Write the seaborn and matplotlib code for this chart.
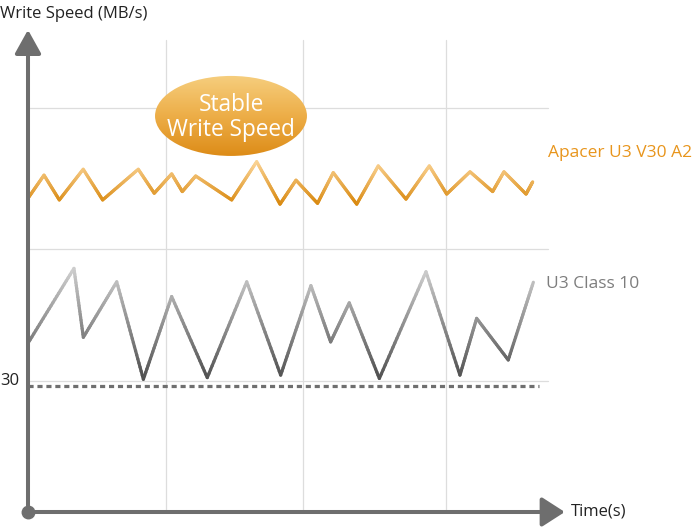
import numpy as np
import pandas as pd
import matplotlib
matplotlib.use("Agg")
import matplotlib.pyplot as plt
import seaborn as sns
from matplotlib.collections import LineCollection
from matplotlib.colors import LinearSegmentedColormap
from matplotlib.patches import Ellipse

# --- data (time in s, write speed in MB/s) ---
apacer_time = [0, 1.16, 2.27, 4.0, 5.41, 7.99, 9.15, 10.41, 11.18, 12.15, 14.76, 16.57,
               18.26, 19.42, 20.98, 22.12, 23.82, 25.38, 27.39, 29.08, 30.34, 32.03,
               33.67, 34.49, 36.09, 36.57]
apacer_speed = [74.7, 80.2, 74.3, 81.6, 74.3, 81.6, 75.9, 80.5, 76.3, 80.0, 74.3, 83.4,
                73.3, 79.0, 73.5, 80.8, 73.3, 82.4, 74.5, 82.4, 75.7, 81.0,
                76.3, 81.0, 75.7, 78.6]

class10_time = [0, 3.33, 4.01, 6.43, 8.36, 10.41, 12.99, 15.85, 18.31, 20.5, 21.93,
                23.28, 25.46, 28.84, 31.3, 32.51, 34.8, 36.62]
class10_speed = [40.2, 58.0, 41.6, 54.8, 31.6, 51.3, 32.0, 54.8, 32.6, 53.9, 40.5,
                 49.8, 31.8, 57.2, 32.6, 46.1, 36.2, 54.7]

threshold_time = [0, 37]
threshold_speed = [30, 30]

grid_times = [10, 19.9, 30.3]
grid_speeds = [31.2, 62.6, 96.2]

series_labels = ["Apacer U3 V30 A2", "U3 Class 10"]

# --- figure ---
sns.set_style("white")
plt.rcParams['font.family'] = ['Open Sans', 'DejaVu Sans']

W, H = 693, 529
fig = plt.figure(figsize=(W / 100, H / 100), dpi=100)
ax = fig.add_axes([0, 0, 1, 1])
# pixel layout: t=0 at x=28, 13.8 px per s; 0 MB/s at y=512, 4.2 px per MB/s
ax.set_xlim(-28 / 13.8, (W - 28) / 13.8)
ax.set_ylim((512 - H) / 4.2, 512 / 4.2)
ax.axis("off")

grid_c = "#dddddd"
for t in grid_times:
    ax.plot([t, t], [0, 112.4], color=grid_c, lw=0.9, zorder=1)
for s in grid_speeds:
    ax.plot([0, 37.7], [s, s], color=grid_c, lw=0.9, zorder=1)

# threshold dashed line
sns.lineplot(x=threshold_time, y=threshold_speed, ax=ax, color="#6f6f6f", lw=2.3,
             zorder=3)
ax.lines[-1].set_dashes([1.6, 1.2])


def gradient_line(times, speeds, light, dark):
    sns.lineplot(x=times, y=speeds, ax=ax, color=dark, lw=2.3, sort=False,
                 estimator=None, zorder=3)
    ln = ax.lines[-1]
    xy = ln.get_xydata()
    ln.set_visible(False)
    cmap = LinearSegmentedColormap.from_list("g", [dark, light])
    lo, hi = xy[:, 1].min(), xy[:, 1].max()
    segs, cols = [], []
    for (x0, y0), (x1, y1) in zip(xy[:-1], xy[1:]):
        f = np.linspace(0, 1, 25)
        xs, ys = x0 + (x1 - x0) * f, y0 + (y1 - y0) * f
        for i in range(len(f) - 1):
            segs.append([(xs[i], ys[i]), (xs[i + 1], ys[i + 1])])
            cols.append(cmap((0.5 * (ys[i] + ys[i + 1]) - lo) / (hi - lo)))
    lc = LineCollection(segs, colors=cols, linewidths=2.3, capstyle="round", zorder=4)
    ax.add_collection(lc)


gradient_line(apacer_time, apacer_speed, "#fbd496", "#d9890f")
gradient_line(class10_time, class10_speed, "#cfcfcf", "#4f4f4f")

# axes with arrows
axis_c = "#6e6e6e"
ax.annotate("", xy=(0, 114.8), xytext=(0, 0),
            arrowprops=dict(arrowstyle="-|>,head_length=0.72,head_width=0.4",
                            mutation_scale=20, lw=2.9, color=axis_c,
                            shrinkA=0, shrinkB=0), zorder=5)
ax.annotate("", xy=(38.9, 0), xytext=(0, 0),
            arrowprops=dict(arrowstyle="-|>,head_length=0.7,head_width=0.45",
                            mutation_scale=20, lw=2.9, color=axis_c,
                            shrinkA=0, shrinkB=0), zorder=5)
ax.plot([0], [0], "o", ms=9, color=axis_c, zorder=6)

# "Stable Write Speed" bubble
ell = Ellipse((14.71, 94.3), 11.01, 19.05, facecolor="none", edgecolor="none", zorder=6)
ax.add_patch(ell)
grad = np.linspace(0, 1, 200).reshape(-1, 1)
bubble_cmap = LinearSegmentedColormap.from_list("b", ["#f6ce7e", "#edae48", "#dd8c18"])
img = ax.imshow(grad, cmap=bubble_cmap, aspect="auto", origin="upper",
                extent=(14.71 - 5.6, 14.71 + 5.6, 94.3 - 9.6, 94.3 + 9.6), zorder=6)
img.set_clip_path(ell)
ax.text(14.71, 94.0, "Stable\nWrite Speed", color="white", fontsize=16.3,
        ha="center", va="center", linespacing=1.05, zorder=7)

# labels
def px(x, y):
    return x / W, 1 - y / H

fig.text(*px(0, 14), "Write Speed (MB/s)", fontsize=12, color="#222222",
         ha="left", va="center")
fig.text(*px(571, 511), "Time(s)", fontsize=12, color="#222222", ha="left", va="center")
fig.text(*px(0, 381), "30", fontsize=12, color="#222222", ha="left", va="center")
fig.text(*px(548, 153), series_labels[0], fontsize=12.5, color="#e8951c",
         ha="left", va="center")
fig.text(*px(546, 284), series_labels[1], fontsize=12.5, color="#7d7d7d",
         ha="left", va="center")

fig.savefig("out.png", dpi=100)
